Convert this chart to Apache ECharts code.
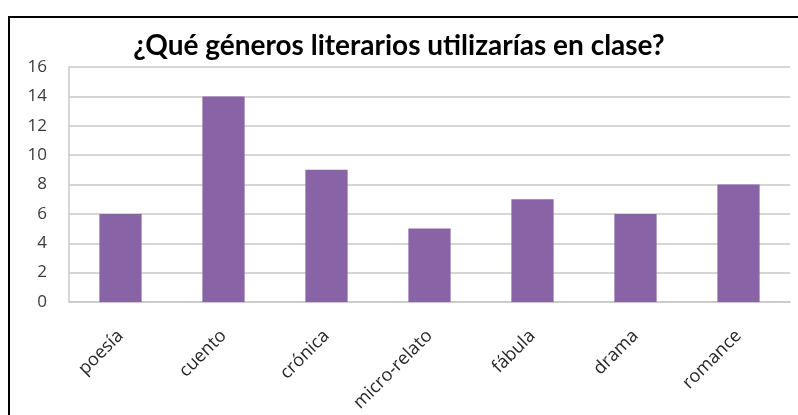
<!DOCTYPE html>
<html><head><meta charset="utf-8">
<script src="https://cdn.jsdelivr.net/npm/echarts@6/dist/echarts.min.js"></script>
<style>html,body{margin:0;padding:0;background:#fff;}#c{width:798px;height:415px;}</style>
</head><body><div id="c"></div>
<script>
const titleText = '¿Qué géneros literarios utilizarías en clase?';
const categories = ['poesía','cuento','crónica','micro-relato','fábula','drama','romance'];
const values = [6,14,9,5,7,6,8];
const yTicks = {min:0, max:16, interval:2};

const chart = echarts.init(document.getElementById('c'), null, {renderer:'canvas'});
chart.setOption({
  animation:false,
  backgroundColor:'#fff',
  title:{text:titleText, left:'center', top:27,
    textStyle:{fontFamily:'Lato', fontWeight:'bold', fontSize:28, color:'#000'}},
  grid:{left:69, right:8, top:67, bottom:113, containLabel:false},
  graphic:[{type:'rect', shape:{x:9, y:17, width:900, height:500}, style:{fill:'none', stroke:'#000', lineWidth:2}, silent:true}],
  xAxis:{type:'category', data:categories,
    axisLine:{show:true, lineStyle:{color:'#c8c8c8', width:1.5}},
    axisTick:{show:false},
    axisLabel:{rotate:45, margin:31, fontFamily:'Open Sans', fontSize:18, color:'#262626', interval:0}},
  yAxis:{type:'value', min:yTicks.min, max:yTicks.max, interval:yTicks.interval,
    axisLine:{show:true, lineStyle:{color:'#c8c8c8', width:1.5}},
    axisTick:{show:false},
    splitLine:{lineStyle:{color:'#c8c8c8', width:1.5}},
    axisLabel:{margin:22, fontFamily:'Open Sans', fontSize:17, color:'#3a3a3a'}},
  series:[{type:'bar', data:values, barWidth:'41%',
    itemStyle:{color:'#8864a6'}}]
});
</script></body></html>
